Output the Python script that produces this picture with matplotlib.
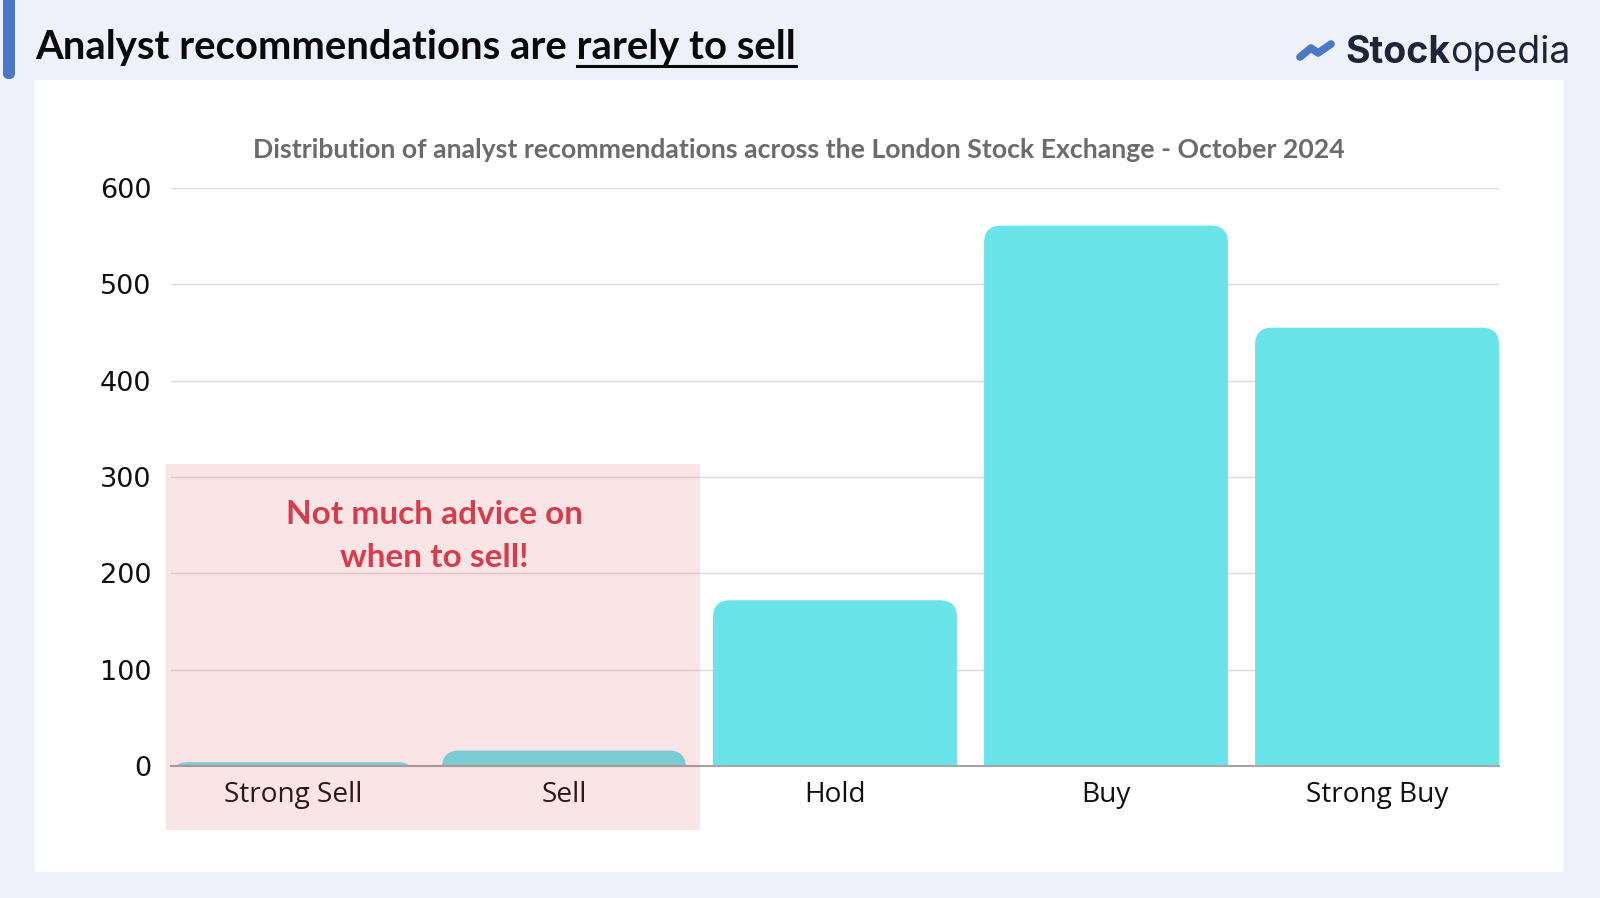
import numpy as np
import matplotlib
matplotlib.use("Agg")
import matplotlib.pyplot as plt
from matplotlib.patches import FancyBboxPatch, Rectangle
from matplotlib.lines import Line2D

# data
categories = ["Strong Sell", "Sell", "Hold", "Buy", "Strong Buy"]
counts = [4, 16, 172, 561, 455]
y_ticks = [0, 100, 200, 300, 400, 500, 600]

W, H = 1600, 898
BG = "#EEF1F9"
CYAN = "#6BE4E9"

fig = plt.figure(figsize=(W / 100, H / 100), dpi=100, facecolor=BG)

# white panel behind the chart
fig.patches.append(Rectangle((35 / W, 1 - 872 / H), (1564 - 35) / W, (872 - 80) / H,
                             transform=fig.transFigure, fc="white", ec="none", zorder=-2))

# blue accent bar at top left
fig.patches.append(FancyBboxPatch((3 / W, 1 - 79 / H), 12 / W, 90 / H,
                                  boxstyle="round,pad=0,rounding_size=0.0035",
                                  mutation_aspect=W / H, transform=fig.transFigure,
                                  fc="#4A78C4", ec="none", zorder=-1))

ax = fig.add_axes([171 / W, 1 - 766 / H, 1328 / W, 578 / H])
ax.set_facecolor("none")

bar_w = 0.9
x = np.arange(len(categories))
ax.set_xlim(-bar_w / 2, len(categories) - 1 + bar_w / 2)
ax.set_ylim(0, 600)

# rounded-top bars (bottom pushed below zero and clipped by the axes)
px_x = 1328 / (len(categories) - 1 + bar_w)
px_y = 578 / 600
r_px = 17
r = r_px / px_x
aspect = (r_px / px_y) / r
for xi, v in zip(x, counts):
    ax.add_patch(FancyBboxPatch((xi - bar_w / 2, -80), bar_w, v + 80,
                                boxstyle=f"round,pad=0,rounding_size={r}",
                                mutation_aspect=aspect, fc=CYAN, ec="none", zorder=2))

ax.set_yticks(y_ticks)
ax.set_xticks(x)
ax.set_xticklabels(categories, fontfamily="Open Sans", fontsize=20.2, color="#111111")
ax.tick_params(axis="y", length=0, pad=14, labelsize=19.5, labelcolor="#111111")
ax.tick_params(axis="x", length=0, pad=11)
ax.yaxis.grid(True, color="#DADADA", lw=1)
ax.set_axisbelow(True)
for s in ["top", "left", "right"]:
    ax.spines[s].set_visible(False)
ax.spines["bottom"].set_color("#A5A5A5")
ax.spines["bottom"].set_linewidth(1.5)

# highlighted sell region
ax.add_patch(Rectangle((-0.004, -0.111), 0.402, 0.6335, transform=ax.transAxes,
                       fc="#D8404E", alpha=0.14, ec="none", clip_on=False, zorder=3))
ax.text(0.1986, 0.398, "Not much advice on\nwhen to sell!", transform=ax.transAxes,
        ha="center", va="center", fontfamily="Lato", fontweight="bold", fontsize=24,
        color="#D63C4C", linespacing=1.62, zorder=4)

# subtitle
fig.text(799 / W, 1 - 150 / H,
         "Distribution of analyst recommendations across the London Stock Exchange - October 2024",
         ha="center", va="center", fontfamily="Lato", fontweight="bold", fontsize=19.2,
         color="#6B6B6B")

# title with underlined tail
title_kw = dict(fontfamily="Lato", fontweight="bold", fontsize=28.8, color="#0A0A0A")
title = fig.text(35 / W, 1 - 59 / H, "Analyst recommendations are rarely to sell",
                 ha="left", va="baseline", **title_kw)
renderer = fig.canvas.get_renderer()
bb = title.get_window_extent(renderer)
tmp = fig.text(0, 0, "rarely to sell", **title_kw)
w2 = tmp.get_window_extent(renderer).width
tmp.remove()
uy = 1 - 66 / H
fig.add_artist(Line2D([(bb.x1 - w2) / W, bb.x1 / W], [uy, uy], transform=fig.transFigure,
                      color="#0A0A0A", lw=2.2))

# logo
icon_x = [1300, 1311, 1318, 1331]
icon_y = [57, 48, 53, 44]
fig.add_artist(Line2D([v / W for v in icon_x], [1 - v / H for v in icon_y],
                      transform=fig.transFigure, color="#4A78C4", lw=5.5,
                      solid_capstyle="round", solid_joinstyle="round"))
logo_kw = dict(fontfamily="Inter", fontsize=27, color="#1F2537", va="baseline")
t1 = fig.text(1345 / W, 1 - 63 / H, "Stock", fontweight="bold", **logo_kw)
x_end = t1.get_window_extent(renderer).x1
fig.text(x_end / W, 1 - 63 / H, "opedia", fontweight="normal", **logo_kw)

fig.savefig("out.png", dpi=100, facecolor=BG)
